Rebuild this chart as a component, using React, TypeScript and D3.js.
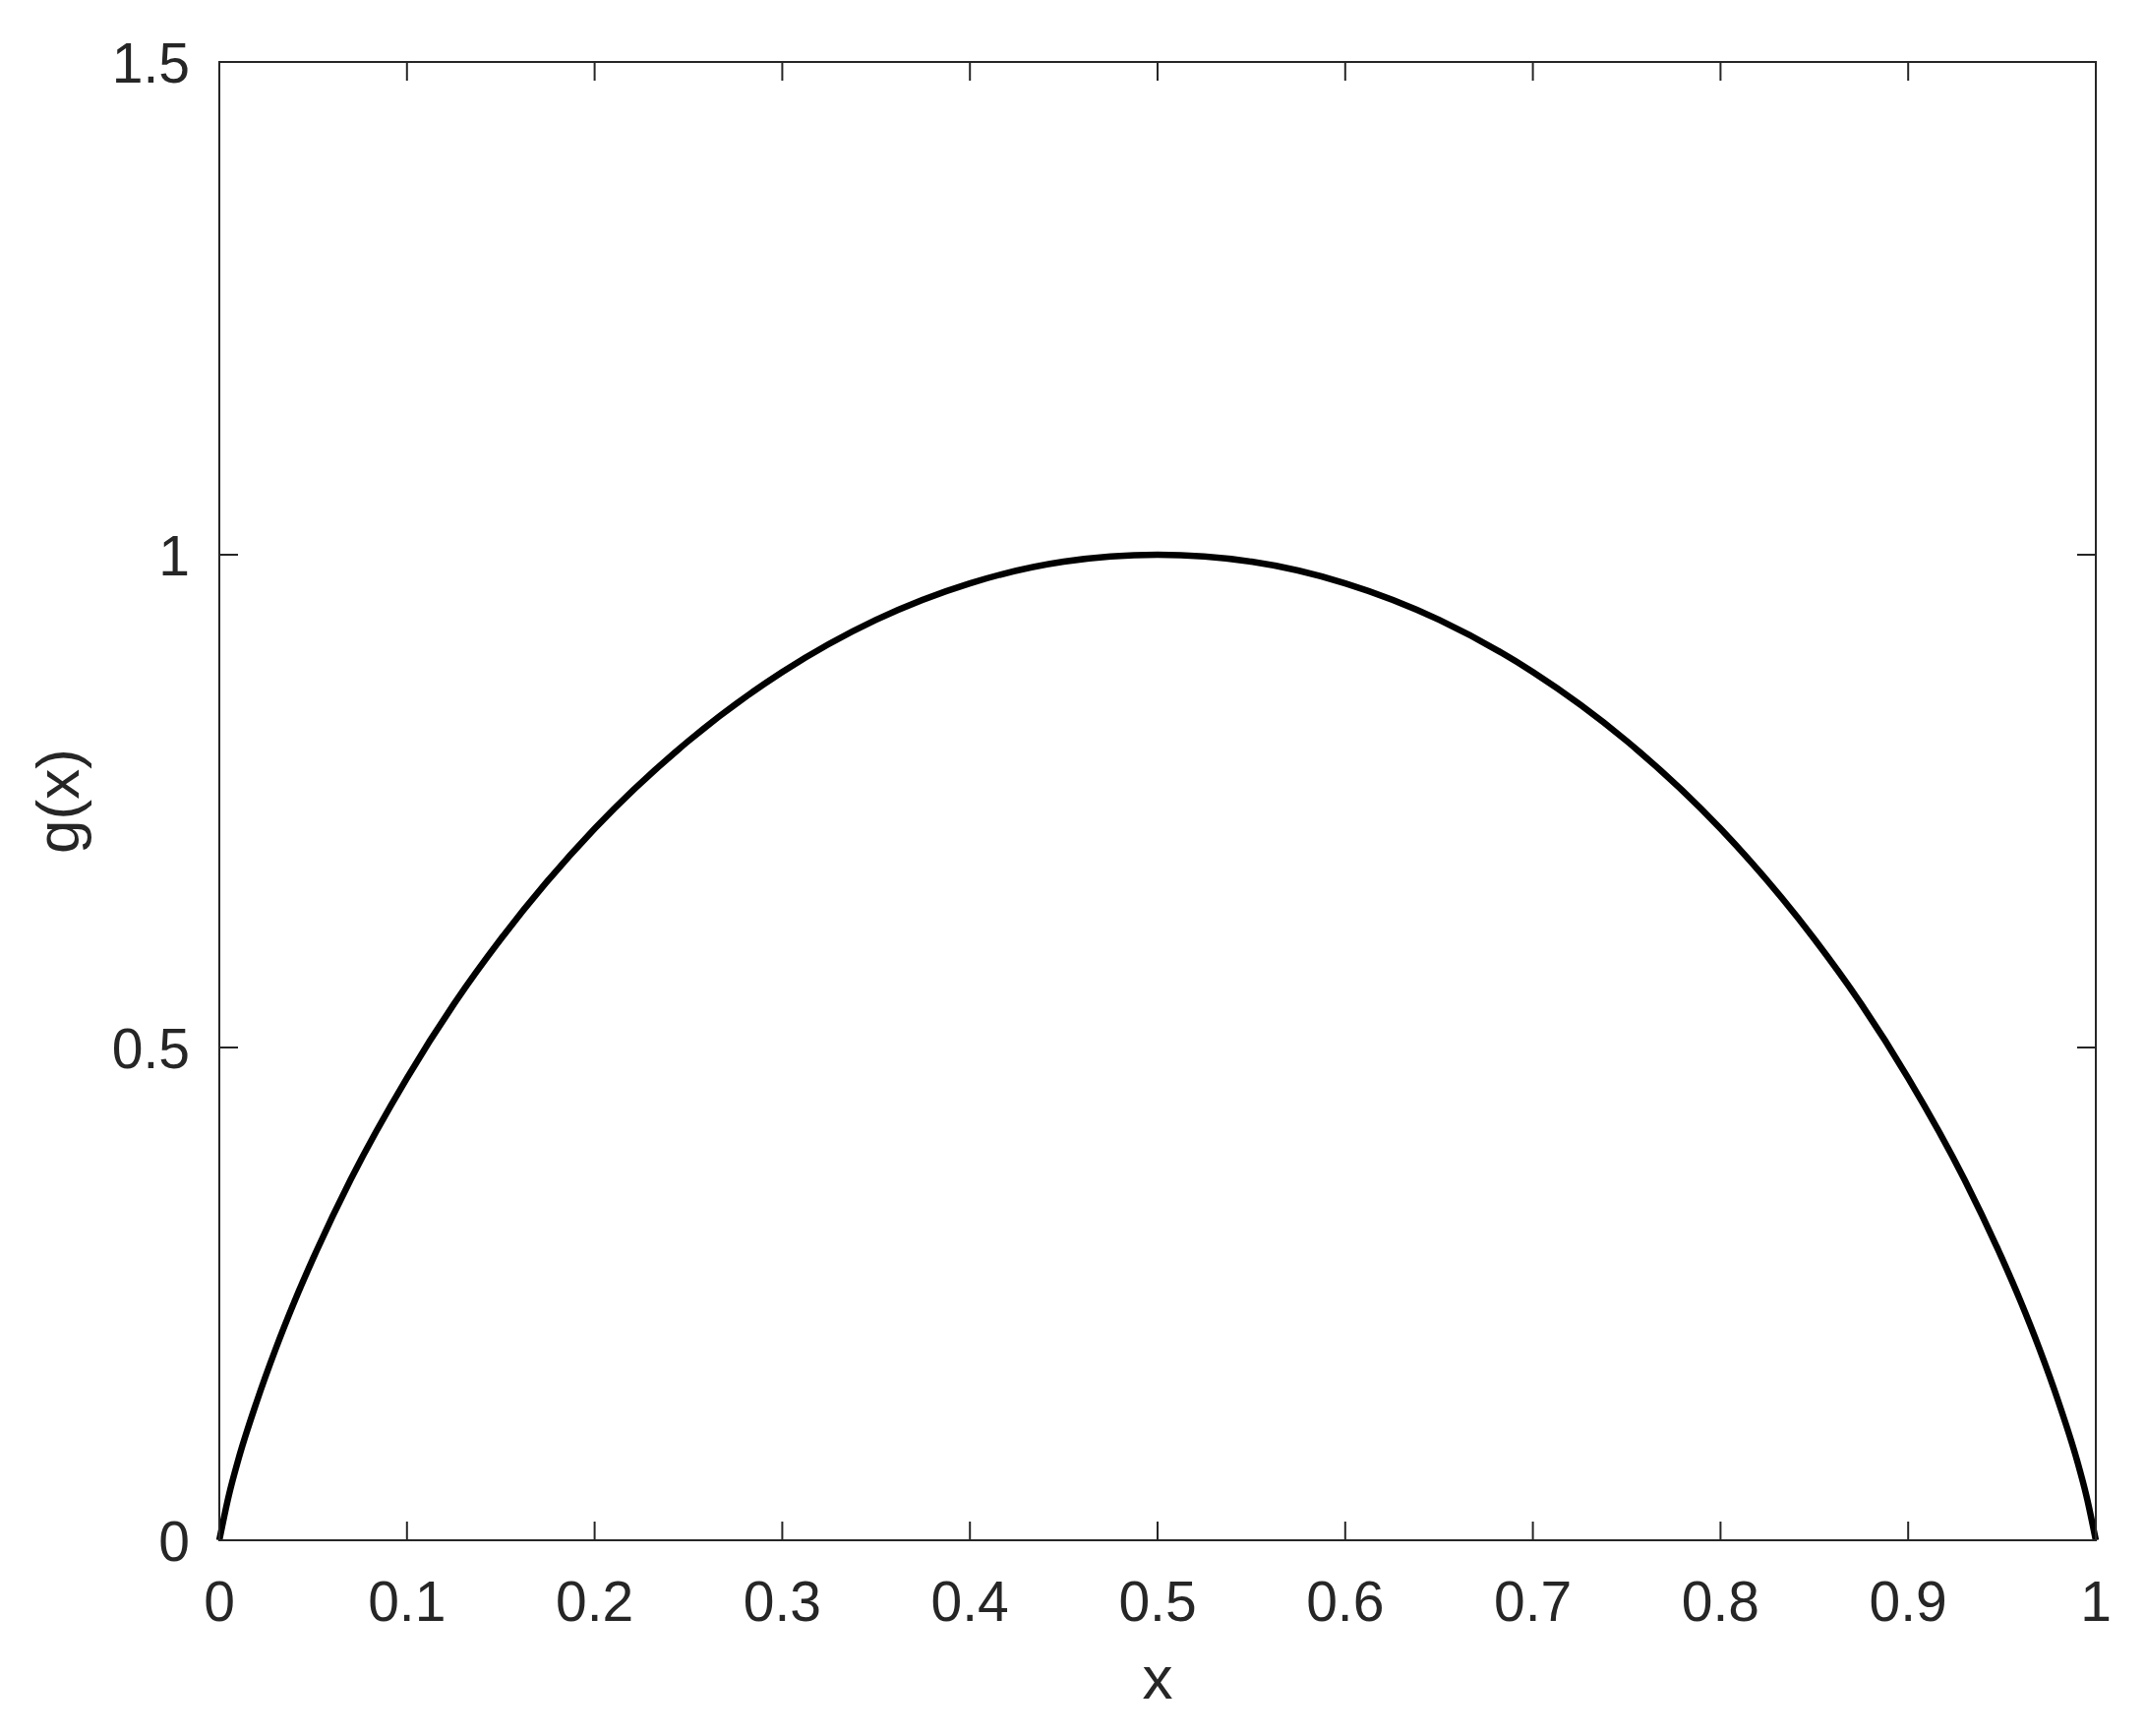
import * as d3 from "d3";
import { useRef, useEffect } from "react";

// values
const xs = [0, 0.005, 0.01, 0.02, 0.03, 0.04, 0.05, 0.07, 0.1, 0.125, 0.15, 0.2, 0.25, 0.3, 0.35, 0.4, 0.45, 0.5,
  0.55, 0.6, 0.65, 0.7, 0.75, 0.8, 0.85, 0.875, 0.9, 0.93, 0.95, 0.96, 0.97, 0.98, 0.99, 0.995, 1];
const gs = [0, 0.045, 0.081, 0.141, 0.194, 0.242, 0.286, 0.366, 0.469, 0.544, 0.61, 0.722, 0.811, 0.881, 0.934, 0.971, 0.993, 1,
  0.993, 0.971, 0.934, 0.881, 0.811, 0.722, 0.61, 0.544, 0.469, 0.366, 0.286, 0.242, 0.194, 0.141, 0.081, 0.045, 0];

const xTicks = [0, 0.1, 0.2, 0.3, 0.4, 0.5, 0.6, 0.7, 0.8, 0.9, 1];
const yTicks = [0, 0.5, 1, 1.5];

const W = 2181;
const H = 1765;
const margin = { top: 63, right: 50, bottom: 199, left: 223 };
const axisColor = "#262626";
const font = "'Liberation Sans', Arial, sans-serif";

const App = () => {
  const ref = useRef(null);

  useEffect(() => {
    const svg = d3.select(ref.current);
    svg.selectAll("*").remove();

    const x = d3.scaleLinear().domain([0, 1]).range([margin.left, W - margin.right]);
    const y = d3.scaleLinear().domain([0, 1.5]).range([H - margin.bottom, margin.top]);
    const [x0, x1] = x.range();
    const [y0, y1] = y.range();
    const tick = 19;

    // curve
    const line = d3.line<number>()
      .x((_, i) => x(xs[i]))
      .y(d => y(d))
      .curve(d3.curveMonotoneX);
    svg.append("path")
      .datum(gs)
      .attr("d", line)
      .attr("fill", "none")
      .attr("stroke", "#000")
      .attr("stroke-width", 6.5)
      .attr("stroke-linejoin", "round");

    // ticks (inward, mirrored)
    const g = svg.append("g").attr("stroke", axisColor).attr("stroke-width", 2);
    xTicks.forEach(t => {
      g.append("line").attr("x1", x(t)).attr("x2", x(t)).attr("y1", y0).attr("y2", y0 - tick);
      g.append("line").attr("x1", x(t)).attr("x2", x(t)).attr("y1", y1).attr("y2", y1 + tick);
    });
    yTicks.forEach(t => {
      g.append("line").attr("x1", x0).attr("x2", x0 + tick).attr("y1", y(t)).attr("y2", y(t));
      g.append("line").attr("x1", x1).attr("x2", x1 - tick).attr("y1", y(t)).attr("y2", y(t));
    });

    // box
    svg.append("rect")
      .attr("x", x0).attr("y", y1)
      .attr("width", x1 - x0).attr("height", y0 - y1)
      .attr("fill", "none")
      .attr("stroke", axisColor)
      .attr("stroke-width", 2);

    // tick labels
    svg.selectAll("text.xt")
      .data(xTicks)
      .enter()
      .append("text")
      .attr("class", "xt")
      .attr("x", d => x(d))
      .attr("y", y0 + 82)
      .attr("text-anchor", "middle")
      .attr("font-family", font)
      .attr("font-size", 57)
      .attr("fill", axisColor)
      .text(d => d3.format("~g")(d));

    svg.selectAll("text.yt")
      .data(yTicks)
      .enter()
      .append("text")
      .attr("class", "yt")
      .attr("x", x0 - 30)
      .attr("y", d => y(d) + 21)
      .attr("text-anchor", "end")
      .attr("font-family", font)
      .attr("font-size", 57)
      .attr("fill", axisColor)
      .text(d => d3.format("~g")(d));

    // axis labels
    svg.append("text")
      .attr("x", (x0 + x1) / 2)
      .attr("y", 1727)
      .attr("text-anchor", "middle")
      .attr("font-family", font)
      .attr("font-size", 62)
      .attr("fill", axisColor)
      .text("x");

    svg.append("text")
      .attr("transform", `translate(80, ${(y0 + y1) / 2}) rotate(-90)`)
      .attr("text-anchor", "middle")
      .attr("font-family", font)
      .attr("font-size", 62)
      .attr("fill", axisColor)
      .text("g(x)");
  }, []);

  return (
    <svg ref={ref} width={W} height={H}
      style={{ position: "absolute", left: 0, top: 0, background: "#fff" }} />
  );
};

export default App;
